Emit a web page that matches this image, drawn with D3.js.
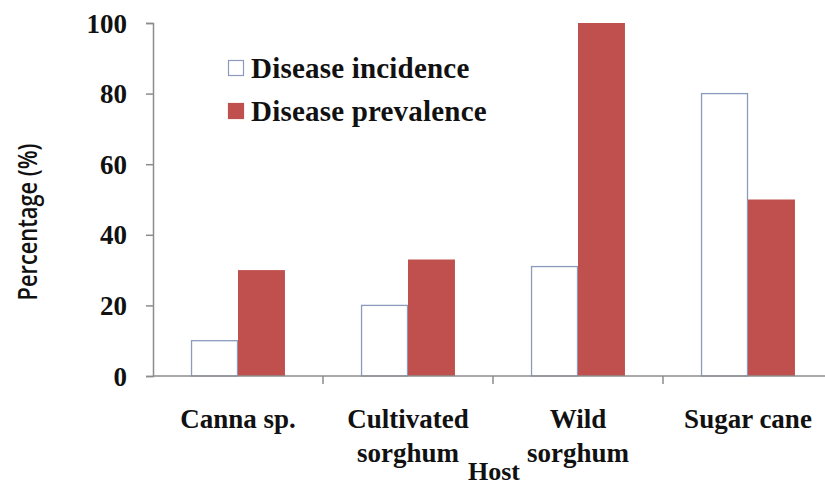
<!DOCTYPE html>
<html>
<head>
<meta charset="utf-8">
<script src="https://cdn.jsdelivr.net/npm/d3@7"></script>
</head>
<body>
<script>
const hosts = [["Canna sp."], ["Cultivated", "sorghum"], ["Wild", "sorghum"], ["Sugar cane"]];
const hostKeys = ["Canna sp.", "Cultivated sorghum", "Wild sorghum", "Sugar cane"];
const seriesNames = ["Disease incidence", "Disease prevalence"];
const incidence = [10, 20, 31, 80];
const prevalence = [30, 33, 100, 50];
const yTicks = [0, 20, 40, 60, 80, 100];

const width = 825, height = 484;
const plotLeft = 153, plotRight = 833, plotTop = 23, plotBottom = 376;
const serifFont = "Liberation Serif, Tinos, FreeSerif, serif";

d3.select("body").style("margin", "0px").style("background", "#fff");

const svg = d3.select("body").append("svg")
    .attr("width", width)
    .attr("height", height)
    .style("display", "block");

const x0 = d3.scaleBand().domain(hostKeys).range([plotLeft, plotRight]).padding(0);
const x1 = d3.scaleBand().domain(seriesNames).range([0, x0.bandwidth()])
    .paddingInner(0).paddingOuter(0.81);
const y = d3.scaleLinear().domain([0, 100]).range([plotBottom, plotTop]);

const fills = { "Disease incidence": "#ffffff", "Disease prevalence": "#c0504d" };
const strokes = { "Disease incidence": "#8a9bbd", "Disease prevalence": "#c0504d" };

const rows = hostKeys.map((h, i) => ({ host: h, values: [incidence[i], prevalence[i]] }));

// bars
const groups = svg.append("g").selectAll("g")
    .data(rows)
    .enter().append("g")
    .attr("transform", d => `translate(${x0(d.host)},0)`);

groups.selectAll("rect")
    .data(d => d.values.map((v, j) => ({ name: seriesNames[j], value: v })))
    .enter().append("rect")
    .attr("x", d => x1(d.name) + (d.name === "Disease incidence" ? 0.5 : 0))
    .attr("y", d => y(d.value))
    .attr("width", d => x1.bandwidth() - (d.name === "Disease incidence" ? 1 : 0))
    .attr("height", d => plotBottom - y(d.value))
    .attr("fill", d => fills[d.name])
    .attr("stroke", d => strokes[d.name])
    .attr("stroke-width", d => d.name === "Disease incidence" ? 1.3 : 0);

// y axis
const yAxis = svg.append("g")
    .attr("transform", `translate(${plotLeft},0)`)
    .call(d3.axisLeft(y).tickValues(yTicks).tickSize(7).tickPadding(19));
yAxis.attr("font-family", null).attr("font-size", null);
yAxis.select(".domain").attr("stroke", "#8c8c8c").attr("stroke-width", 1.5);
yAxis.selectAll(".tick line").attr("stroke", "#8c8c8c").attr("stroke-width", 1.5);
yAxis.selectAll(".tick text")
    .attr("font-family", serifFont)
    .attr("font-weight", "bold")
    .attr("font-size", 27)
    .attr("dy", "0.34em")
    .attr("fill", "#111");

// x axis
svg.append("line")
    .attr("x1", plotLeft).attr("x2", width)
    .attr("y1", plotBottom).attr("y2", plotBottom)
    .attr("stroke", "#8c8c8c").attr("stroke-width", 1.5);
svg.append("g").selectAll("line")
    .data(hostKeys)
    .enter().append("line")
    .attr("x1", d => x0(d) + x0.bandwidth())
    .attr("x2", d => x0(d) + x0.bandwidth())
    .attr("y1", plotBottom).attr("y2", plotBottom + 8)
    .attr("stroke", "#8c8c8c").attr("stroke-width", 1.5);

// category labels, one text per line
const labelLines = [];
hosts.forEach((lines, i) => lines.forEach((t, j) => labelLines.push({ key: hostKeys[i], text: t, line: j })));
svg.append("g").selectAll("text")
    .data(labelLines)
    .enter().append("text")
    .attr("font-family", serifFont)
    .attr("font-weight", "bold")
    .attr("font-size", 27)
    .attr("fill", "#111")
    .attr("x", d => x0(d.key) + x0.bandwidth() / 2)
    .attr("y", d => 428 + d.line * 34)
    .attr("text-anchor", "middle")
    .text(d => d.text);

// x title
svg.append("text")
    .attr("font-family", serifFont)
    .attr("font-weight", "bold")
    .attr("font-size", 26)
    .attr("fill", "#111")
    .attr("x", 494).attr("y", 480)
    .attr("text-anchor", "middle")
    .text("Host");

// y title
svg.append("text")
    .attr("transform", "translate(37,222) rotate(-90)")
    .attr("text-anchor", "middle")
    .attr("font-family", "Open Sans")
    .attr("font-weight", "600")
    .attr("font-size", 27)
    .attr("fill", "#111")
    .attr("textLength", 157)
    .attr("lengthAdjust", "spacingAndGlyphs")
    .text("Percentage (%)");

// legend
const legend = svg.append("g").selectAll("g")
    .data(seriesNames)
    .enter().append("g")
    .attr("transform", (d, i) => `translate(228,${60 + i * 43})`);
legend.append("rect")
    .attr("width", 15).attr("height", 15)
    .attr("x", 0.5).attr("y", 0.5)
    .attr("fill", d => fills[d])
    .attr("stroke", d => strokes[d])
    .attr("stroke-width", 1.2);
legend.append("text")
    .attr("font-family", serifFont)
    .attr("font-weight", "bold")
    .attr("font-size", 29)
    .attr("fill", "#111")
    .attr("x", 23).attr("y", 18)
    .attr("letter-spacing", "0.2")
    .text(d => d);
</script>
</body>
</html>
